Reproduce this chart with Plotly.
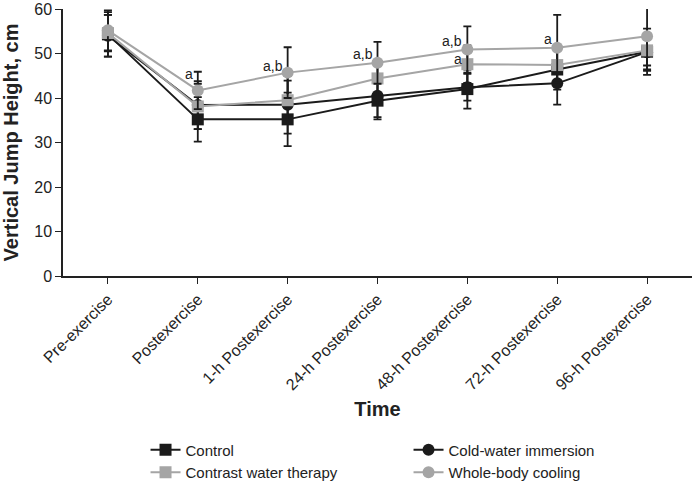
import plotly.graph_objects as go

# Data
times = ['Pre-exercise', 'Postexercise', '1-h Postexercise', '24-h Postexercise',
         '48-h Postexercise', '72-h Postexercise', '96-h Postexercise']

control = [54.3, 35.2, 35.2, 39.4, 42.0, 46.4, 50.4]
control_sd = [5.0, 5.0, 6.0, 4.2, 4.4, 4.5, 5.2]

cwi = [54.0, 38.4, 38.5, 40.5, 42.4, 43.3, 50.3]
cwi_sd = [4.7, 5.4, 6.5, 4.8, 3.0, 4.8, 4.2]

contrast = [54.6, 38.1, 39.5, 44.4, 47.6, 47.4, 50.7]
contrast_sd = [4.1, 5.1, 4.4, 4.0, 4.2, 4.0, 3.4]

wbc = [55.2, 41.7, 45.7, 47.9, 50.9, 51.3, 53.9]
wbc_sd = [4.5, 4.2, 5.7, 4.7, 5.2, 7.4, 7.5]

# significance letters: (time index, y value, text)
notes_x = [1, 2, 3, 4, 4, 5]
notes_y = [45.5, 47.2, 50.0, 52.7, 48.7, 53.3]
notes_text = ['a', 'a,b', 'a,b', 'a,b', 'a', 'a']

BLACK = '#1b1b1b'
GRAY = '#a5a5a5'

series = [
    ('Control', control, control_sd, BLACK, 'square'),
    ('Cold-water immersion', cwi, cwi_sd, BLACK, 'circle'),
    ('Contrast water therapy', contrast, contrast_sd, GRAY, 'square'),
    ('Whole-body cooling', wbc, wbc_sd, GRAY, 'circle'),
]

fig = go.Figure()
x_idx = list(range(len(times)))
for name, vals, sd, col, sym in series:
    fig.add_trace(go.Scatter(
        x=x_idx, y=vals, name=name, mode='lines+markers',
        line=dict(color=col, width=2),
        marker=dict(symbol=sym, size=12, color=col),
        error_y=dict(type='data', array=sd, color=BLACK, thickness=1.8, width=4),
    ))

for xi, yi, t in zip(notes_x, notes_y, notes_text):
    fig.add_annotation(x=xi, y=yi, text=t, showarrow=False, xanchor='right',
                       xshift=-3, font=dict(size=14, color='#222'))

fig.update_layout(
    width=693, height=487,
    paper_bgcolor='white', plot_bgcolor='white',
    margin=dict(l=63, r=1, t=9, b=211, autoexpand=False),
    font=dict(family='Liberation Sans, Arial, sans-serif', color='#222', size=14),
    showlegend=True,
    legend=dict(orientation='h', xref='container', yref='container',
                x=0.21, xanchor='left', y=0.11, yanchor='top',
                entrywidth=218, entrywidthmode='pixels', tracegroupgap=0,
                font=dict(size=15), itemwidth=30),
    xaxis=dict(
        range=[-0.5, 6.5], tickmode='array', tickvals=x_idx, ticktext=times,
        tickangle=-45, tickfont=dict(size=16), automargin=False,
        showline=True, linecolor='#222', linewidth=1.5,
        ticks='outside', ticklen=6, tickcolor='#222', showgrid=False, zeroline=False,
        title=dict(text='<b>Time</b>', font=dict(size=20), standoff=10),
    ),
    yaxis=dict(
        range=[0, 60], dtick=10, tickfont=dict(size=16), automargin=False,
        ticklabeloverflow='allow',
        showline=True, linecolor='#222', linewidth=1.5,
        ticks='outside', ticklen=6, tickcolor='#222', showgrid=False, zeroline=False,
        title=dict(text='<b>Vertical Jump Height, cm</b>', font=dict(size=20), standoff=10),
    ),
)

# the page's default body margin shifts the figure; remove it
fig.write_html('out.html', config={'displayModeBar': False},
               post_script="document.body.style.margin='0';")
